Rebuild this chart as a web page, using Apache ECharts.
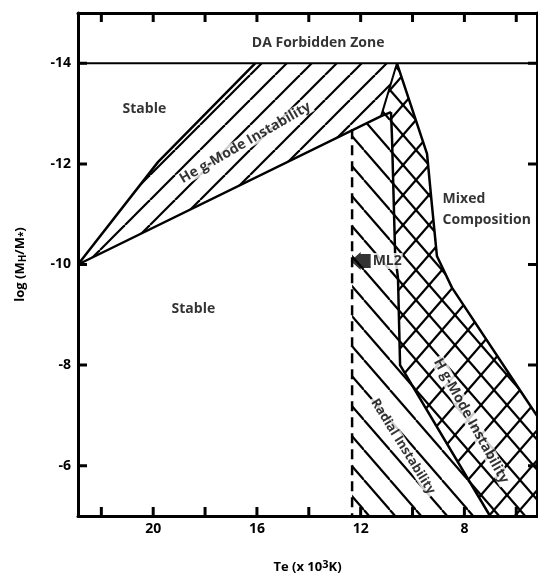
<!DOCTYPE html>
<html><head><meta charset="utf-8">
<script src="https://cdn.jsdelivr.net/npm/echarts@6/dist/echarts.min.js"></script>
<style>html,body{margin:0;padding:0;background:#fff}#c{width:538px;height:579px}</style>
</head><body><div id="c"></div>
<script>
// Axis ticks / labels
const xTicks = [22, 20, 18, 16, 14, 12, 10, 8, 6];
const xLabels = [20, 16, 12, 8];
const yTicks = [-14, -12, -10, -8, -6];
const X_MIN = 5.2, X_MAX = 22.9, Y_MIN = -15, Y_MAX = -5;

// Regions [Te (10^3 K), log(MH/M*)]
const heRegion = [[22.9, -10], [19.81, -12.04], [16.07, -14], [10.60, -14], [11.21, -12.95]];
const radialRegion = [[12.33, -5], [12.33, -12.69], [11.21, -12.95], [10.83, -13.03], [10.79, -12.5],
  [10.67, -10.19], [10.56, -9.73], [10.48, -8.0], [7.01, -5]];
const hRegion = [[10.60, -14], [9.44, -12.2], [9.25, -11.17], [9.06, -10.17], [8.48, -9.54],
  [5.74, -7.41], [4.58, -6.51], [4.58, -5], [7.01, -5], [10.48, -8.0], [10.56, -9.73],
  [10.67, -10.19], [10.79, -12.5], [10.83, -13.03], [11.21, -12.95]];

// Boundary lines
const heUpper = [[22.9, -10], [19.81, -12.04], [16.07, -14]];
const heLower = [[22.9, -10], [11.21, -12.95], [10.83, -13.03]];
const heRightEdge = [[10.60, -14], [11.21, -12.95]];
const hLeft = [[10.83, -13.03], [10.79, -12.5], [10.67, -10.19], [10.56, -9.73], [10.48, -8.0], [7.01, -5]];
const hRight = [[10.60, -14], [9.44, -12.2], [9.25, -11.17], [9.06, -10.17], [8.48, -9.54], [5.74, -7.41], [4.58, -6.51]];
const dashedEdge = [[12.33, -12.69], [12.33, -5]];
const daLine = [[23.5, -14], [4.5, -14]];
const ml2 = [[12.0, -10.07]];

// Text labels: [Te, logM, text, rotate, fontSize]
const texts = [
  [13.64, -14.41, 'DA Forbidden Zone', 0, 14],
  [20.34, -13.09, 'Stable', 0, 14],
  [18.45, -9.11, 'Stable', 0, 14],
  [16.45, -12.42, 'He g-Mode Instability', 30, 14],
  [7.74, -6.89, 'H g-Mode Instability', -61, 14],
  [10.37, -6.38, 'Radial Instability', -58, 13]
];
const mixedLabel = [[8.86, -11.09]];

const FONT = 'Open Sans';

function makeHatch(dirs, w, h, lw) {
  const c = document.createElement('canvas'); c.width = w; c.height = h;
  const g = c.getContext('2d'); g.strokeStyle = '#000'; g.lineWidth = lw;
  for (const d of dirs) for (let k = -1; k <= 1; k++) {
    g.beginPath();
    if (d === '/') { g.moveTo(k * w, h); g.lineTo(k * w + w, 0); }
    else { g.moveTo(k * w, 0); g.lineTo(k * w + w, h); }
    g.stroke();
  }
  return { image: c, repeat: 'repeat' };
}
const hatchHe = makeHatch(['/'], 25, 25, 2.2);
const hatchRad = makeHatch(['\\'], 26, 30, 2.2);
const hatchCross = makeHatch(['\\', '/'], 26, 30, 2.2);

function polySeries(points, fill) {
  return {
    type: 'custom', coordinateSystem: 'cartesian2d', clip: true, silent: true, z: 1,
    data: points, encode: { x: 0, y: 1 },
    renderItem: function (params, api) {
      if (params.dataIndex !== 0) return null;
      const pts = points.map(p => api.coord(p));
      return { type: 'polygon', shape: { points: pts }, style: { fill: fill, stroke: null } };
    }
  };
}
function lineSeries(points, width, type) {
  return {
    type: 'line', data: points, symbol: 'none', clip: true, silent: true, z: 3,
    lineStyle: { color: '#000', width: width, type: type || 'solid', cap: 'butt', join: 'round' },
    animation: false
  };
}

// Inward frame tick marks: one short line series per tick (9 px long expressed in axis units)
const GRID_W = 538 - 78 - 1, GRID_H = 579 - 13 - 59;
const tx = 9 / GRID_W * (X_MAX - X_MIN), ty = 9 / GRID_H * (Y_MAX - Y_MIN);
const tickSeriesList = [];
xTicks.forEach(v => {
  tickSeriesList.push(lineSeries([[v, Y_MAX], [v, Y_MAX - ty]], 3));
  tickSeriesList.push(lineSeries([[v, Y_MIN], [v, Y_MIN + ty]], 3));
});
yTicks.forEach(v => {
  tickSeriesList.push(lineSeries([[X_MAX, v], [X_MAX - tx, v]], 3));
  tickSeriesList.push(lineSeries([[X_MIN, v], [X_MIN + tx, v]], 3));
});
tickSeriesList.forEach(s => { s.z = 10; });

function xAxisDef(pos, showLabel) {
  return {
    type: 'value', position: pos, min: X_MIN, max: X_MAX, inverse: true,
    axisLine: { show: true, onZero: false, lineStyle: { color: '#000', width: 3 } },
    axisTick: { show: false },
    axisLabel: { show: showLabel, customValues: xLabels, color: '#000', fontFamily: FONT, fontWeight: 'bold', fontSize: 14, margin: 6 },
    splitLine: { show: false },
    name: showLabel ? '{a|Te (x 10}{s|3}{a|K)}' : '', nameLocation: 'middle', nameGap: 43,
    nameTextStyle: { rich: {
      a: { fontFamily: FONT, fontWeight: 'bold', fontSize: 13, color: '#000' },
      s: { fontFamily: FONT, fontWeight: 'bold', fontSize: 11, color: '#000', padding: [0, 0, 6, 0] }
    } }
  };
}
function yAxisDef(pos, showLabel) {
  return {
    type: 'value', position: pos, min: Y_MIN, max: Y_MAX, inverse: true,
    axisLine: { show: true, onZero: false, lineStyle: { color: '#000', width: 3 } },
    axisTick: { show: false },
    axisLabel: { show: showLabel, customValues: yTicks, color: '#000', fontFamily: FONT, fontWeight: 'bold', fontSize: 14, margin: 7 },
    splitLine: { show: false },
    name: showLabel ? '{a|log (M}{s|H}{a|/M}{s|*}{a|)}' : '', nameLocation: 'middle', nameGap: 50, nameRotate: 90,
    nameTextStyle: { rich: {
      a: { fontFamily: FONT, fontWeight: 'bold', fontSize: 13, color: '#000' },
      s: { fontFamily: FONT, fontWeight: 'bold', fontSize: 10, color: '#000', padding: [6, 0, 0, 0] }
    } }
  };
}

const labelBase = { fontFamily: FONT, fontWeight: 'bold', color: '#000' };

const option = {
  animation: false,
  backgroundColor: '#fff',
  grid: { left: 78, right: 1, top: 13, bottom: 59, containLabel: false },
  xAxis: [xAxisDef('bottom', true), xAxisDef('top', false)],
  yAxis: [yAxisDef('left', true), yAxisDef('right', false)],
  series: [
    polySeries(heRegion, hatchHe),
    polySeries(radialRegion, hatchRad),
    polySeries(hRegion, hatchCross),
    lineSeries(daLine, 2),
    lineSeries(heUpper, 2.5),
    lineSeries(heLower, 2.5),
    lineSeries(heRightEdge, 2),
    lineSeries(hLeft, 2.5),
    lineSeries(hRight, 2.5),
    lineSeries(dashedEdge, 2.5, [10, 6]),
    ...tickSeriesList,
    {
      type: 'scatter', data: ml2, z: 6, silent: true,
      symbol: 'path://M0,9 L10,0 L10,2 L20,2 L20,16 L10,16 L10,18 Z', symbolSize: [20, 18],
      itemStyle: { color: '#000' },
      label: { show: true, position: 'right', distance: 1, formatter: 'ML2', fontSize: 14,
        backgroundColor: '#fff', padding: [1, 1], ...labelBase }
    },
    {
      type: 'scatter', z: 5, silent: true, symbolSize: 1, itemStyle: { color: 'rgba(0,0,0,0)' },
      data: texts.map(t => ({
        value: [t[0], t[1]],
        label: { show: true, position: 'inside', formatter: t[2], rotate: t[3], fontSize: t[4],
          backgroundColor: '#fff', padding: [0, 2], ...labelBase }
      }))
    },
    {
      type: 'scatter', z: 5, silent: true, symbolSize: 1, itemStyle: { color: 'rgba(0,0,0,0)' },
      data: mixedLabel,
      label: { show: true, position: 'right', distance: 0, formatter: 'Mixed\nComposition',
        fontSize: 14, lineHeight: 21, align: 'left', ...labelBase }
    }
  ]
};
const chart = echarts.init(document.getElementById('c'), null, { renderer: 'canvas' });
chart.setOption(option);
</script></body></html>
